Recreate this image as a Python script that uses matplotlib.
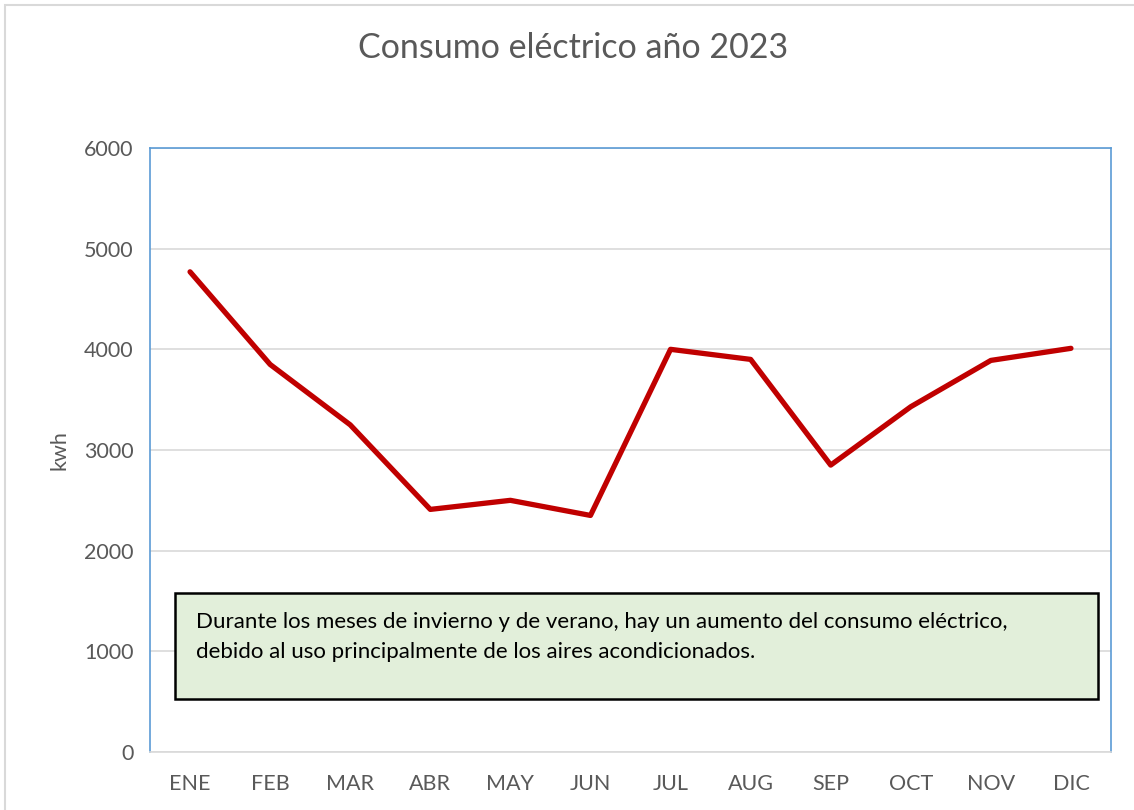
import matplotlib.pyplot as plt
from matplotlib.patches import Rectangle

# Monthly consumption (kwh)
months = ["ENE", "FEB", "MAR", "ABR", "MAY", "JUN", "JUL", "AUG", "SEP", "OCT", "NOV", "DIC"]
consumo = [4770, 3850, 3250, 2410, 2500, 2350, 4000, 3900, 2850, 3430, 3890, 4010]
yticks = [0, 1000, 2000, 3000, 4000, 5000, 6000]

note = ("Durante los meses de invierno y de verano, hay un aumento del consumo eléctrico,\n"
        "debido al uso principalmente de los aires acondicionados.")

plt.rcParams['font.family'] = ['Lato', 'DejaVu Sans']

fig = plt.figure(figsize=(11.34, 8.1), dpi=100)
ax = fig.add_axes([150 / 1134, 1 - 752 / 810, 961 / 1134, 604 / 810])

# outer chart border
fig.patches.append(Rectangle((5 / 1134, -0.01), 1.02, 1 - 5 / 810 + 0.01, transform=fig.transFigure,
                             fill=False, edgecolor='#d9d9d9', linewidth=1.5))

x = range(len(months))
ax.plot(x, consumo, color='#c00000', linewidth=3.8, solid_capstyle='round', zorder=3)

ax.set_xlim(-0.5, len(months) - 0.5)
ax.set_ylim(0, 6000)
ax.set_yticks(yticks)
ax.set_xticks(list(x))
ax.set_xticklabels(months)
ax.yaxis.grid(True, color='#d9d9d9', linewidth=1.2)
ax.set_axisbelow(True)
ax.tick_params(length=0, labelsize=15.5, colors='#595959', pad=12)
ax.tick_params(axis='x', pad=16)

for side in ['left', 'top', 'right']:
    ax.spines[side].set_color('#5b9bd5')
    ax.spines[side].set_linewidth(1.2)
ax.spines['bottom'].set_color('#d9d9d9')
ax.spines['bottom'].set_linewidth(1.2)

ax.set_ylabel('kwh', fontsize=15.5, color='#595959', labelpad=10)
fig.text(573 / 1134, 1 - 48 / 810, 'Consumo eléctrico año 2023', ha='center', va='center',
         fontsize=24.5, color='#595959')

# annotation box
ax.add_patch(Rectangle((0.026, 0.0877), 0.9605, 0.175, transform=ax.transAxes,
                       facecolor='#e2efda', edgecolor='black', linewidth=1.8, zorder=4))
ax.text(0.048, 0.232, note, transform=ax.transAxes, ha='left', va='top', fontsize=16,
        color='black', linespacing=1.65, zorder=5)

fig.savefig('out.png', dpi=100)
